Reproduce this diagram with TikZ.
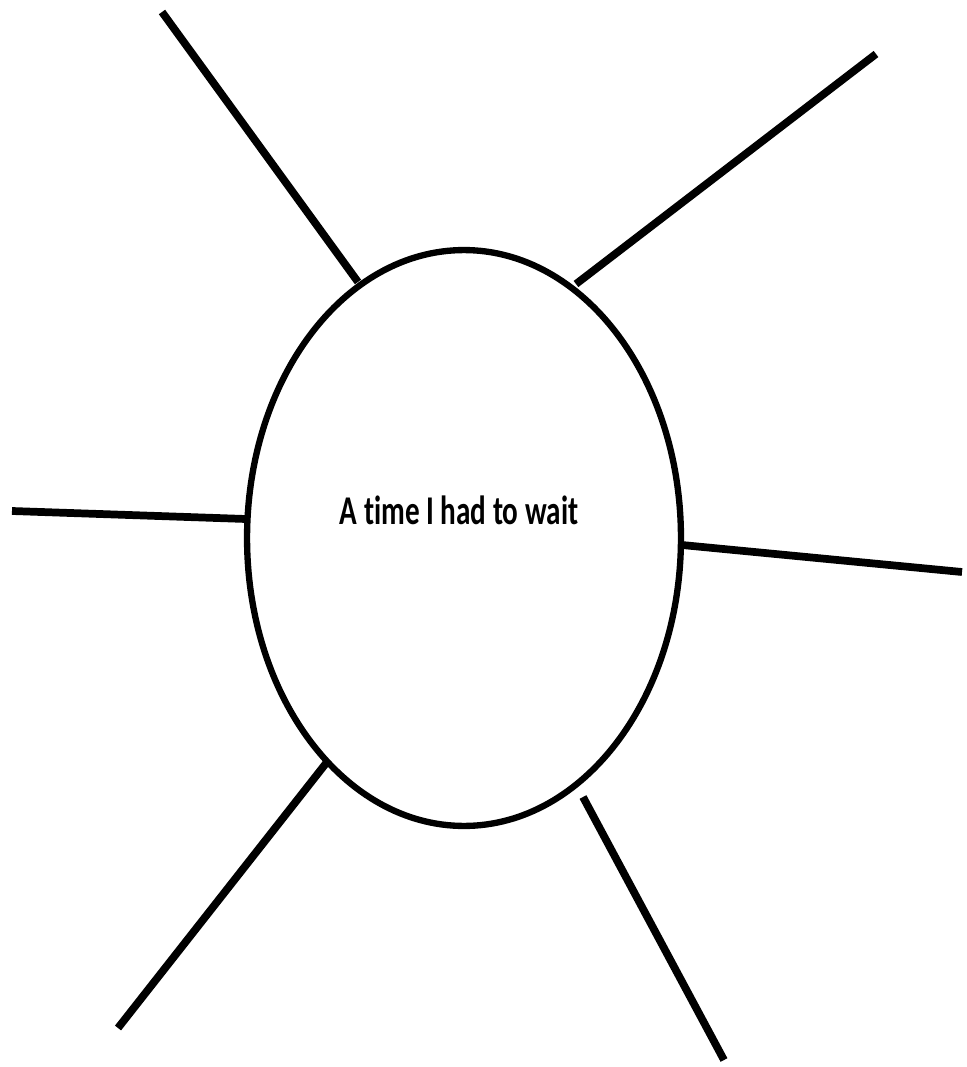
\documentclass[tikz,border=0pt]{standalone}
\usepackage{fontspec}
\setmainfont[Ligatures=NoCommon]{Carlito}
\usetikzlibrary{shapes.geometric}
\tikzset{
  spoke/.style={line width=4.4pt},
  hub/.style={draw, ellipse, line width=3.6pt, minimum width=8.68cm, minimum height=11.52cm, inner sep=0pt}
}
\begin{document}
\begin{tikzpicture}[x=0.02cm, y=-0.02cm]
  \useasboundingbox (0,0) rectangle (966,1067);
  \node[hub] (hub) at (464,538) {};
  \node (title) at (459,510) {\scalebox{1}[1.4]{\fontsize{16.6pt}{18pt}\selectfont\bfseries A time I had to wait}};
  % free ends of the spokes
  \coordinate (tlout) at (162,12);   \coordinate (tlin) at (358,282);
  \coordinate (trout) at (876,54);   \coordinate (trin) at (576,284);
  \coordinate (lout) at (12,511);    \coordinate (lin) at (246,519);
  \coordinate (rout) at (962,572);   \coordinate (rin) at (682,545);
  \coordinate (blout) at (118,1028); \coordinate (blin) at (327,762);
  \coordinate (brout) at (724,1060); \coordinate (brin) at (583,797);
  \draw[spoke] (tlout) -- (tlin);
  \draw[spoke] (trout) -- (trin);
  \draw[spoke] (lout) -- (lin);
  \draw[spoke] (rout) -- (rin);
  \draw[spoke] (blout) -- (blin);
  \draw[spoke] (brout) -- (brin);
\end{tikzpicture}
\end{document}
